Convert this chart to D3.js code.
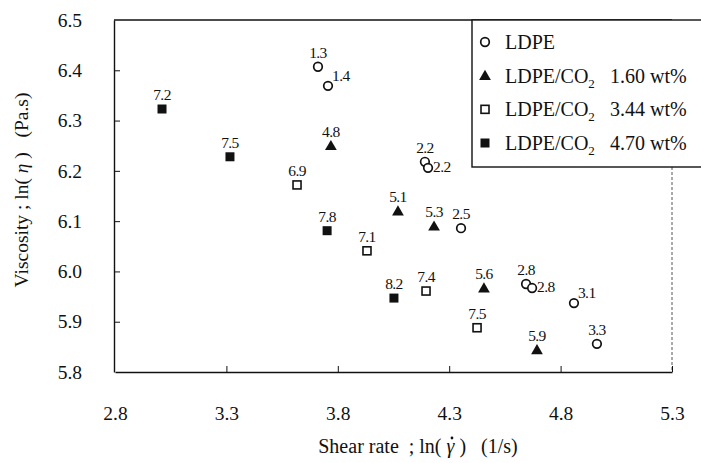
<!DOCTYPE html>
<html>
<head>
<meta charset="utf-8">
<script src="https://cdn.jsdelivr.net/npm/d3@7"></script>
<style>
  body { margin: 0; background: #fff; }
  svg text { font-family: "Liberation Serif", "DejaVu Serif", serif; fill: #111; }
</style>
</head>
<body>
<svg id="chart" width="701" height="463"></svg>
<script>
// values
const xTicks = [2.8, 3.3, 3.8, 4.3, 4.8, 5.3];
const yTicks = [5.8, 5.9, 6.0, 6.1, 6.2, 6.3, 6.4, 6.5];

const ldpeX = [3.711, 3.756, 4.191, 4.205, 4.353, 4.645, 4.672, 4.860, 4.963];
const ldpeY = [6.407, 6.369, 6.218, 6.206, 6.086, 5.975, 5.967, 5.937, 5.856];
const ldpeLabels = ["1.3", "1.4", "2.2", "2.2", "2.5", "2.8", "2.8", "3.1", "3.3"];

const co2LowX = [3.769, 4.070, 4.232, 4.456, 4.694];
const co2LowY = [6.250, 6.120, 6.090, 5.967, 5.844];
const co2LowLabels = ["4.8", "5.1", "5.3", "5.6", "5.9"];

const co2MidX = [3.617, 3.931, 4.196, 4.425];
const co2MidY = [6.172, 6.041, 5.961, 5.888];
const co2MidLabels = ["6.9", "7.1", "7.4", "7.5"];

const co2HighX = [3.011, 3.316, 3.752, 4.052];
const co2HighY = [6.323, 6.228, 6.081, 5.947];
const co2HighLabels = ["7.2", "7.5", "7.8", "8.2"];

const legendNames = ["LDPE", "LDPE/CO", "LDPE/CO", "LDPE/CO"];
const legendWt = ["", "1.60 wt%", "3.44 wt%", "4.70 wt%"];

// where each point label sits: t = above, r = right, tr = above right
const series = [
  {x: ldpeX, y: ldpeY, labels: ldpeLabels, shape: "circle",
   place: ["t", "tr", "t", "r", "t", "t", "r", "tr", "t"]},
  {x: co2LowX, y: co2LowY, labels: co2LowLabels, shape: "triangle"},
  {x: co2MidX, y: co2MidY, labels: co2MidLabels, shape: "openSquare"},
  {x: co2HighX, y: co2HighY, labels: co2HighLabels, shape: "square"}
];

const svg = d3.select("#chart");
const ink = "#111";

const x = d3.scaleLinear().domain([2.8, 5.3]).range([115, 672]);
const y = d3.scaleLinear().domain([5.8, 6.5]).range([372, 20]);

function drawMarker(g, shape, cx, cy) {
  if (shape === "circle") {
    g.append("circle").attr("cx", cx).attr("cy", cy).attr("r", 4.3)
      .attr("fill", "#fff").attr("stroke", ink).attr("stroke-width", 1.7);
  } else if (shape === "triangle") {
    g.append("path")
      .attr("d", d3.symbol(d3.symbolTriangle, 60)())
      .attr("transform", `translate(${cx},${cy + 1})`)
      .attr("fill", ink);
  } else if (shape === "openSquare") {
    g.append("rect").attr("x", cx - 4).attr("y", cy - 4).attr("width", 8).attr("height", 8)
      .attr("fill", "#fff").attr("stroke", ink).attr("stroke-width", 1.6);
  } else {
    g.append("rect").attr("x", cx - 4.5).attr("y", cy - 4.5).attr("width", 9).attr("height", 9)
      .attr("fill", ink);
  }
}

// frame
svg.append("line").attr("x1", 114).attr("x2", 672).attr("y1", 20).attr("y2", 20)
  .attr("stroke", ink).attr("stroke-width", 1.4);
svg.append("line").attr("x1", 672).attr("x2", 672).attr("y1", 167).attr("y2", 372)
  .attr("stroke", "#555").attr("stroke-width", 1).attr("stroke-dasharray", "3,2");

// axes
const xAxis = svg.append("g")
    .attr("transform", `translate(0,${y(5.8)})`)
    .call(d3.axisBottom(x).tickValues(xTicks).tickFormat(d3.format(".1f"))
      .tickSizeInner(-6).tickSizeOuter(0).tickPadding(34));
const yAxis = svg.append("g")
    .attr("transform", `translate(${x(2.8) - 1},0)`)
    .call(d3.axisLeft(y).tickValues(yTicks).tickFormat(d3.format(".1f"))
      .tickSizeInner(-6).tickSizeOuter(0).tickPadding(32));

[xAxis, yAxis].forEach(a => {
  a.select(".domain").attr("stroke", ink).attr("stroke-width", 1.4);
  a.selectAll(".tick line").attr("stroke", ink).attr("stroke-width", 1);
  a.selectAll(".tick text").style("font-size", "19.5px").attr("fill", ink);
});
yAxis.selectAll(".tick").filter(d => d === 5.8 || d === 6.5).select("line").remove();
xAxis.selectAll(".tick").filter(d => d === 2.8).select("line").remove();

// points and their labels
series.forEach(s => {
  const g = svg.append("g");
  s.x.forEach((v, i) => {
    const cx = x(v), cy = y(s.y[i]);
    drawMarker(g, s.shape, cx, cy);
    const p = s.place ? s.place[i] : "t";
    const t = g.append("text").text(s.labels[i])
      .style("font-size", "15.5px").attr("letter-spacing", "-0.6");
    if (p === "t") {
      t.attr("x", cx).attr("y", cy - 9).attr("text-anchor", "middle");
    } else if (p === "tr") {
      t.attr("x", cx + 4).attr("y", cy - 5);
    } else {
      t.attr("x", cx + 5).attr("y", cy + 4);
    }
  });
});

// legend
const lg = svg.append("g");
lg.append("rect").attr("x", 472).attr("y", 20).attr("width", 245).attr("height", 147)
  .attr("fill", "#fff").attr("stroke", ink).attr("stroke-width", 1.4);
const rowY = d3.scaleLinear().domain([0, 3]).range([42, 143]);
series.forEach((s, i) => {
  const cy = rowY(i);
  drawMarker(lg, s.shape, 485, cy);
  const t = lg.append("text").attr("x", 505).attr("y", cy + 7).style("font-size", "20px");
  t.append("tspan").text(legendNames[i]);
  if (i > 0) {
    t.append("tspan").text("2").style("font-size", "13px").attr("dy", 5);
    t.append("tspan").text(legendWt[i]).attr("x", 610).attr("dy", -5);
  }
});

// axis titles
svg.append("text")
  .attr("transform", "translate(28,190) rotate(-90)")
  .attr("text-anchor", "middle").style("font-size", "19.5px").style("white-space", "pre")
  .call(t => {
    t.append("tspan").text("Viscosity ; ln( ");
    t.append("tspan").text("η").style("font-style", "italic");
    t.append("tspan").text(" )   (Pa.s)");
  });

const xTitle = svg.append("text")
  .attr("x", 418).attr("y", 453)
  .attr("text-anchor", "middle").style("font-size", "20px").style("white-space", "pre")
  .call(t => {
    t.append("tspan").text("Shear rate  ; ln( ");
    t.append("tspan").text("γ").style("font-style", "italic");
    t.append("tspan").text(" )   (1/s)");
  });

// dot over gamma (rate)
const full = xTitle.text();
const gi = full.indexOf("γ");
const n = xTitle.node();
const gx = (n.getStartPositionOfChar(gi).x + n.getEndPositionOfChar(gi).x) / 2 + 1.5;
svg.append("circle").attr("cx", gx).attr("cy", 453 - 15).attr("r", 1.4).attr("fill", ink);
</script>
</body>
</html>
